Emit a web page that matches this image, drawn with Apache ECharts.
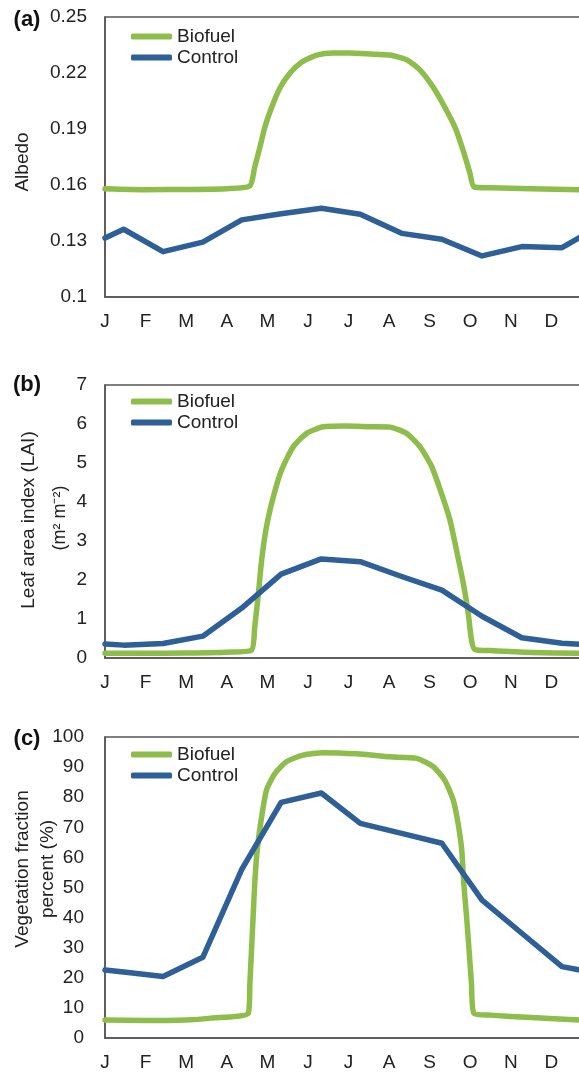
<!DOCTYPE html>
<html>
<head>
<meta charset="utf-8">
<script src="https://cdn.jsdelivr.net/npm/echarts/dist/echarts.min.js"></script>
<style>
  html, body { margin: 0; padding: 0; overflow: hidden; background: #fff; }
  #main { width: 600px; height: 1073px; }
</style>
</head>
<body>
<div id="main"></div>
<script>
// month letters for the x axis (value 0 = start of Jan)
var monthLetters = ['J', 'F', 'M', 'A', 'M', 'J', 'J', 'A', 'S', 'O', 'N', 'D'];

// control runs: monthly values
var ctrlMonths = [0, 0.46, 1.43, 2.41, 3.37, 4.34, 5.33, 6.29, 7.31, 8.3, 9.29, 10.27, 11.26, 11.7];
var ctrlA = [0.1316, 0.1363, 0.1243, 0.1294, 0.1413, 0.1446, 0.1475, 0.1443, 0.1341, 0.1309, 0.122, 0.127, 0.1264, 0.132];
var ctrlB = [0.36, 0.33, 0.37, 0.56, 1.28, 2.15, 2.54, 2.47, 2.09, 1.74, 1.07, 0.52, 0.38, 0.35];
var ctrlC = [22.6, 21.9, 20.4, 26.8, 56, 78.3, 81.4, 71.3, 68, 64.7, 45.8, 34.8, 23.7, 22.6];

// biofuel runs
var bioMonthsA = [0, 1, 2, 3, 3.57, 3.69, 3.82, 3.94, 4.11, 4.31, 4.56, 4.85, 5.22, 5.62, 6.03, 6.53, 7.02, 7.44, 7.76, 8.08, 8.37, 8.62, 8.82, 8.99, 9.09, 9.5, 10.5, 11.7];
var bioA = [0.158, 0.1575, 0.1576, 0.158, 0.1595, 0.1697, 0.1804, 0.1911, 0.2018, 0.212, 0.220, 0.2259, 0.2296, 0.2307, 0.2307, 0.2302, 0.2296, 0.227, 0.2217, 0.2126, 0.2018, 0.1911, 0.1788, 0.1665, 0.159, 0.1585, 0.158, 0.1574];

var bioMonthsB = [0, 1, 2, 3, 3.61, 3.69, 3.78, 3.86, 3.98, 4.15, 4.35, 4.64, 4.97, 5.38, 5.95, 6.53, 7.02, 7.43, 7.76, 8.05, 8.29, 8.5, 8.66, 8.83, 8.95, 9.03, 9.11, 9.5, 10.5, 11.7];
var bioB = [0.12, 0.12, 0.13, 0.15, 0.2, 0.8, 1.66, 2.51, 3.37, 4.14, 4.82, 5.42, 5.76, 5.93, 5.95, 5.93, 5.92, 5.76, 5.42, 4.91, 4.22, 3.54, 2.77, 1.91, 1.15, 0.46, 0.22, 0.19, 0.14, 0.12];

var bioMonthsC = [0, 1, 2, 2.6, 3.53, 3.57, 3.61, 3.65, 3.69, 3.75, 3.86, 3.98, 4.19, 4.47, 4.88, 5.38, 6.2, 7.02, 7.68, 8.09, 8.37, 8.58, 8.7, 8.79, 8.84, 8.91, 8.97, 9.03, 9.09, 9.5, 10.5, 11.7];
var bioC = [6.0, 5.8, 6.0, 6.6, 8.2, 18.2, 29.2, 40.3, 51.4, 62.5, 73.5, 82.4, 87.9, 91.8, 94.0, 94.8, 94.4, 93.4, 92.9, 90.1, 85.7, 79.1, 71.3, 62.5, 51.4, 40.3, 29.2, 18.2, 8.2, 7.6, 6.8, 6.0];

var green = '#8fbd4b';
var blue = '#2f5f97';
var font = 'Liberation Sans, Arial, sans-serif';

function pairs(xs, ys) {
  return xs.map(function (x, i) { return [x, ys[i]]; });
}

var panels = [
  { top: 17, height: 280, min: 0.1, max: 0.25, interval: 0.03, margin: 18, bio: pairs(bioMonthsA, bioA), ctrl: pairs(ctrlMonths, ctrlA), legendTop: 21 },
  { top: 385, height: 273, min: 0, max: 7, interval: 1, margin: 18, bio: pairs(bioMonthsB, bioB), ctrl: pairs(ctrlMonths, ctrlB), legendTop: 386 },
  { top: 737, height: 301, min: 0, max: 100, interval: 10, margin: 21, bio: pairs(bioMonthsC, bioC), ctrl: pairs(ctrlMonths, ctrlC), legendTop: 739 }
];

var grids = [], xAxes = [], yAxes = [], series = [], legends = [];

panels.forEach(function (p, i) {
  grids.push({
    left: 105, top: p.top, width: 487, height: p.height,
    show: true, borderColor: '#555', borderWidth: 1.5
  });
  xAxes.push({
    type: 'value', gridIndex: i, min: 0, max: 12, interval: 1,
    axisLine: { show: true, lineStyle: { color: '#555', width: 1.5 } },
    axisTick: { show: false },
    splitLine: { show: false },
    axisLabel: {
      margin: 15, fontSize: 19, color: '#222', fontFamily: font,
      formatter: function (v) { return monthLetters[v] || ''; }
    }
  });
  yAxes.push({
    type: 'value', gridIndex: i, min: p.min, max: p.max, interval: p.interval,
    axisLine: { show: true, lineStyle: { color: '#555', width: 1.5 } },
    axisTick: { show: false },
    splitLine: { show: false },
    axisLabel: {
      margin: p.margin, fontSize: 19, color: '#222', fontFamily: font,
      formatter: function (v) { return String(+v.toFixed(2)); }
    }
  });
  series.push({
    name: 'Biofuel', type: 'line', xAxisIndex: i, yAxisIndex: i,
    data: p.bio, showSymbol: false, symbol: 'none', smooth: 0.2,
    lineStyle: { color: green, width: 5.5, cap: 'round', join: 'round' },
    itemStyle: { color: green }
  });
  series.push({
    name: 'Control', type: 'line', xAxisIndex: i, yAxisIndex: i,
    data: p.ctrl, showSymbol: false, symbol: 'none',
    lineStyle: { color: blue, width: 5.5, cap: 'round', join: 'round' },
    itemStyle: { color: blue }
  });
  legends.push({
    data: ['Biofuel', 'Control'],
    orient: 'vertical', left: 126, top: p.legendTop,
    itemWidth: 41, itemHeight: 6, itemGap: 0, icon: 'roundRect',
    textStyle: { fontSize: 19, color: '#222', fontFamily: font, lineHeight: 21 },
    selectedMode: false
  });
});

function vtext(x, y, text, size) {
  return {
    type: 'text', x: x, y: y, rotation: Math.PI / 2,
    style: { text: text, fontSize: size || 19, fontFamily: font, fill: '#222', align: 'center', verticalAlign: 'middle' }
  };
}
function tag(y, text) {
  return {
    type: 'text', x: 27, y: y,
    style: { text: text, fontSize: 22, fontWeight: 'bold', fontFamily: font, fill: '#111', align: 'center', verticalAlign: 'middle' }
  };
}

var chart = echarts.init(document.getElementById('main'));
chart.setOption({
  animation: false,
  grid: grids,
  xAxis: xAxes,
  yAxis: yAxes,
  legend: legends,
  series: series,
  graphic: [
    tag(20, '(a)'), tag(385, '(b)'), tag(739, '(c)'),
    vtext(23, 162, 'Albedo'),
    vtext(29, 520, 'Leaf area index (LAI)'),
    vtext(60, 518, '(m² m⁻²)', 18),
    vtext(23, 869, 'Vegetation fraction'),
    vtext(48, 869, 'percent (%)')
  ]
});
</script>
</body>
</html>
